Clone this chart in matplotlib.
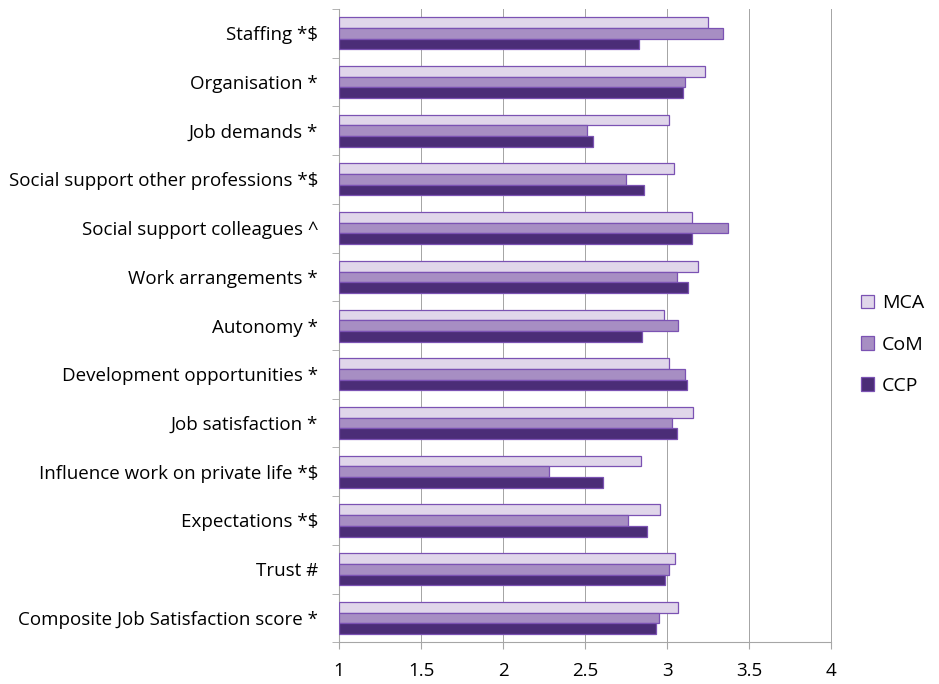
import numpy as np
import matplotlib.pyplot as plt

# categories, top to bottom
categories = ['Staffing *$', 'Organisation *', 'Job demands *',
              'Social support other professions *$', 'Social support colleagues ^',
              'Work arrangements *', 'Autonomy *', 'Development opportunities *',
              'Job satisfaction *', 'Influence work on private life *$',
              'Expectations *$', 'Trust #', 'Composite Job Satisfaction score *']

mca = [3.25, 3.23, 3.01, 3.04, 3.15, 3.19, 2.98, 3.01, 3.16, 2.84, 2.96, 3.05, 3.07]
com = [3.34, 3.11, 2.51, 2.75, 3.37, 3.06, 3.07, 3.11, 3.03, 2.28, 2.76, 3.01, 2.95]
ccp = [2.83, 3.10, 2.55, 2.86, 3.15, 3.13, 2.85, 3.12, 3.06, 2.61, 2.88, 2.99, 2.93]

series_names = ['MCA', 'CoM', 'CCP']
colors = ['#E0D6EA', '#A78EC3', '#4B2D77']
edge = '#7B52B3'

plt.rcParams['font.family'] = ['Open Sans', 'DejaVu Sans']

fig = plt.figure(figsize=(9.39, 6.84), dpi=100)
ax = fig.add_axes([0.361, 0.061, 0.524, 0.926])

y = np.arange(len(categories))
h = 0.22
base = 1.0
for i, (vals, name, c) in enumerate(zip([mca, com, ccp], series_names, colors)):
    vals = np.array(vals)
    ax.barh(y + (i - 1) * h, vals - base, height=h, left=base, color=c,
            edgecolor=edge, linewidth=0.9, label=name, zorder=3)

ax.set_xlim(1, 4)
ax.set_ylim(len(categories) - 0.5, -0.5)
ax.set_xticks([1, 1.5, 2, 2.5, 3, 3.5, 4])
ax.set_xticklabels(['1', '1.5', '2', '2.5', '3', '3.5', '4'], fontsize=13.5)
ax.xaxis.grid(True, color='#A6A6A6', linewidth=0.72, zorder=0)
for gl in ax.get_xgridlines():
    gl.set_clip_on(False)
    gl.set_antialiased(False)
ax.set_axisbelow(True)

ax.set_yticks(y)
ax.set_yticklabels(categories, fontsize=13.5)
ax.set_yticks(np.arange(-0.5, len(categories), 1), minor=True)
ax.tick_params(axis='y', which='major', length=0, pad=15)
ax.tick_params(axis='y', which='minor', length=5, color='#A6A6A6')
ax.tick_params(axis='x', length=5, color='#A6A6A6', pad=9)

for s in ['top', 'right']:
    ax.spines[s].set_visible(False)
for s in ['left', 'bottom']:
    ax.spines[s].set_color('#A6A6A6')

ax.legend(loc='center left', bbox_to_anchor=(1.025, 0.47), frameon=False,
          fontsize=14, handlelength=0.7, handleheight=0.7, labelspacing=1.2,
          handletextpad=0.4)

fig.savefig('out.png', dpi=100)
